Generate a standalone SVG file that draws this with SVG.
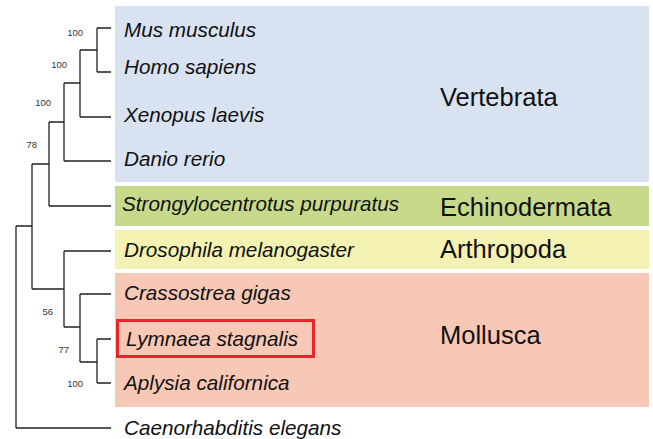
<svg xmlns="http://www.w3.org/2000/svg" width="653" height="439" viewBox="0 0 653 439">
<style>
.sp{font-family:"Liberation Sans",Arial,sans-serif;font-style:italic;font-size:20.7px;fill:#111}
.cl{font-family:"Liberation Sans",Arial,sans-serif;font-size:25.5px;fill:#111}
.bs{font-family:"Liberation Sans",Arial,sans-serif;font-size:9.5px;fill:#333;text-anchor:end}
.tree{fill:none;stroke:#222;stroke-width:1.3}
</style>
<rect width="653" height="439" fill="#fff"/>
<g id="clade-vertebrata"><rect x="115" y="6" width="534" height="176" fill="#d8e2f0"/><text class="cl" x="440" y="106">Vertebrata</text></g>
<g id="clade-echinodermata"><rect x="115" y="186" width="534" height="40" fill="#c7d98b"/><text class="cl" x="440" y="216">Echinodermata</text></g>
<g id="clade-arthropoda"><rect x="115" y="230" width="534" height="39" fill="#f4f2b3"/><text class="cl" x="440" y="258">Arthropoda</text></g>
<g id="clade-mollusca"><rect x="115" y="273" width="534" height="134" fill="#f8c8b6"/><text class="cl" x="440" y="344">Mollusca</text></g>
<g id="connectors" class="tree">
<path d="M97,28H111M97,72H111M97,28V72"/>
<path d="M80,50H97M80,117H111M80,50V117"/>
<path d="M64,83H80M64,161H111M64,83V161"/>
<path d="M49,122H64M49,206H111M49,122V206"/>
<path d="M32,164H49M32,289H64M32,164V289"/>
<path d="M64,251H111M64,327H80M64,251V327"/>
<path d="M80,294H111M80,362H97M80,294V362"/>
<path d="M97,339H111M97,383H111M97,339V383"/>
<path d="M16,226H32M16,428H111M16,226V428"/>
</g>
<g id="bootstrap">
<text class="bs" x="83" y="35.5">100</text>
<text class="bs" x="67" y="67.5">100</text>
<text class="bs" x="51" y="105.5">100</text>
<text class="bs" x="37" y="147.5">78</text>
<text class="bs" x="53" y="314.5">56</text>
<text class="bs" x="69" y="352.5">77</text>
<text class="bs" x="83" y="386.5">100</text>
</g>
<g id="mus"><text class="sp" x="124" y="37">Mus musculus</text></g>
<g id="homo"><text class="sp" x="124" y="74">Homo sapiens</text></g>
<g id="xenopus"><text class="sp" x="124" y="122">Xenopus laevis</text></g>
<g id="danio"><text class="sp" x="124" y="166">Danio rerio</text></g>
<g id="strongylocentrotus"><text class="sp" x="122" y="211">Strongylocentrotus purpuratus</text></g>
<g id="drosophila"><text class="sp" x="124" y="257">Drosophila melanogaster</text></g>
<g id="crassostrea"><text class="sp" x="124" y="300">Crassostrea gigas</text></g>
<g id="lymnaea"><rect x="117.5" y="320.5" width="196" height="36" fill="none" stroke="#e8262a" stroke-width="3"/><text class="sp" x="126" y="346">Lymnaea stagnalis</text></g>
<g id="aplysia"><text class="sp" x="124" y="390">Aplysia californica</text></g>
<g id="caenorhabditis"><text class="sp" x="124" y="435">Caenorhabditis elegans</text></g>
</svg>
